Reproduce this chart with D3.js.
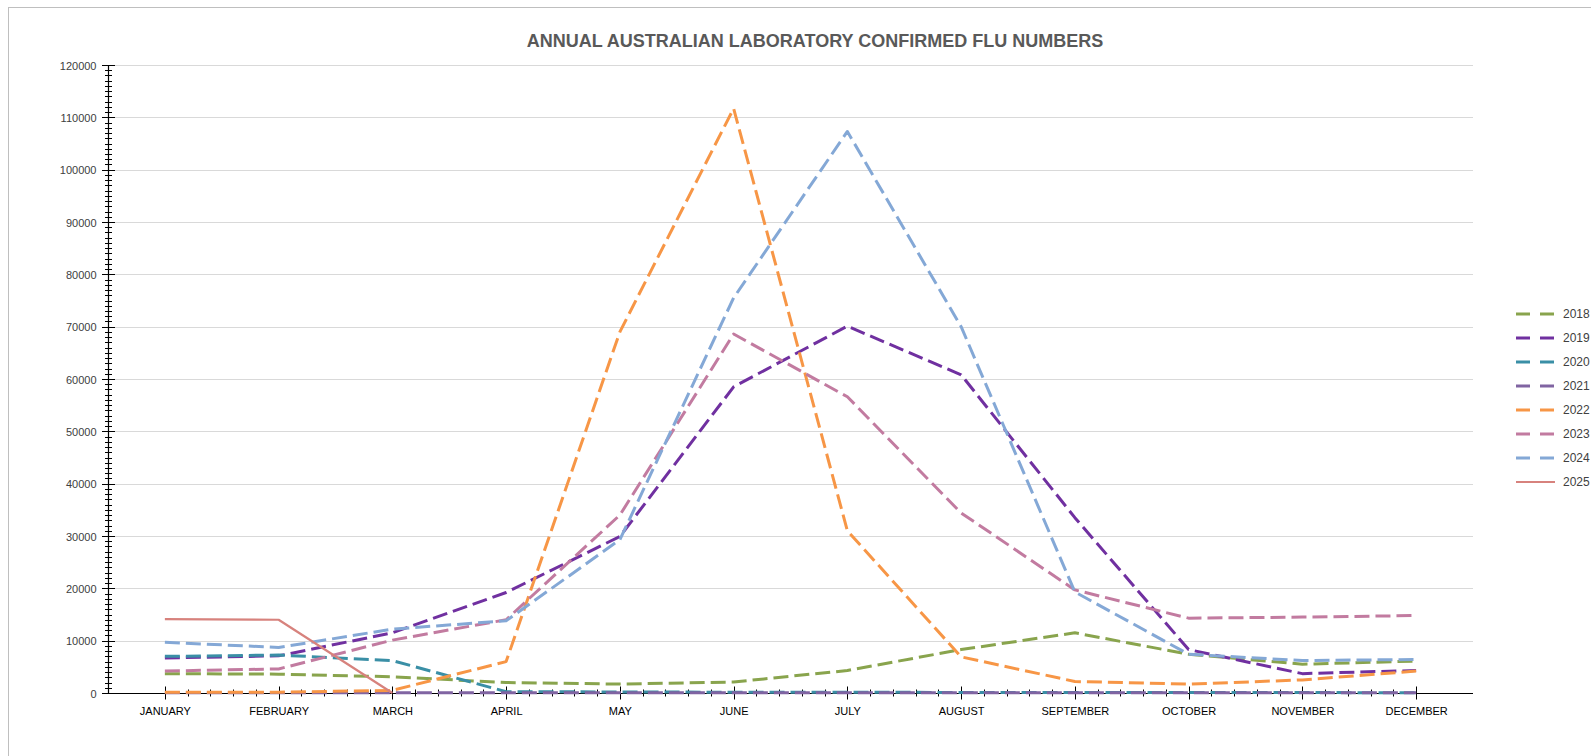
<!DOCTYPE html>
<html>
<head>
<meta charset="utf-8">
<script src="https://cdn.jsdelivr.net/npm/d3@7"></script>
<style>
  html, body { margin: 0; padding: 0; background: #fff; }
  svg { display: block; }
</style>
</head>
<body>
<svg id="chart" width="1591" height="756"></svg>
<script>
// ---- data ----
const chartTitle = "ANNUAL AUSTRALIAN LABORATORY CONFIRMED FLU NUMBERS";
const months = ["JANUARY","FEBRUARY","MARCH","APRIL","MAY","JUNE","JULY","AUGUST","SEPTEMBER","OCTOBER","NOVEMBER","DECEMBER"];
const years = ["2018","2019","2020","2021","2022","2023","2024","2025"];
const yTicks = [0,10000,20000,30000,40000,50000,60000,70000,80000,90000,100000,110000,120000];

const s2018 = [3700, 3600, 3100, 2000, 1700, 2100, 4300, 8300, 11500, 7400, 5500, 6100];
const s2019 = [6700, 7100, 11500, 19200, 29900, 58500, 70100, 60800, 33500, 8300, 3700, 4300];
const s2020 = [7000, 7250, 6200, 250, 200, 150, 150, 100, 100, 80, 80, 60];
const s2021 = [50, 40, 40, 50, 60, 50, 60, 50, 40, 30, 30, 30];
const s2022 = [150, 150, 500, 6000, 69000, 111700, 31000, 6900, 2200, 1700, 2500, 4200];
const s2023 = [4200, 4600, 10100, 14000, 34000, 68600, 56600, 34400, 19700, 14300, 14500, 14800];
const s2024 = [9700, 8700, 12200, 13800, 29300, 75500, 107300, 70000, 19300, 7400, 6200, 6400];
const s2025 = [14100, 14000, 0];

const seriesValues = [s2018, s2019, s2020, s2021, s2022, s2023, s2024, s2025];
const colors = ["#89A44D", "#7030A0", "#3A8FA6", "#8064A2", "#F79646", "#C27BA0", "#84A8D6", "#D7827D"];
const dashed = [true, true, true, true, true, true, true, false];

(function () {
// ---- layout ----
const svg = d3.select("#chart");
const pL = 108, pR = 1473, pT = 65, pB = 693;

const x = d3.scalePoint().domain(months).range([pL, pR]).padding(0.5);
const y = d3.scaleLinear().domain([0, 120000]).range([pB, pT]);

// outer frame
svg.append("rect")
  .attr("x", 8.5).attr("y", 7.5).attr("width", 1700).attr("height", 900)
  .attr("fill", "none").attr("stroke", "#BFBFBF").attr("stroke-width", 1);

// title
svg.append("text")
  .attr("x", 815).attr("y", 41)
  .attr("text-anchor", "middle").attr("dominant-baseline", "central")
  .attr("font-family", "'Liberation Sans Narrow', 'Liberation Sans', Arial, sans-serif")
  .attr("font-weight", "bold").attr("font-size", 18)
  .attr("fill", "#595959")
  .text(chartTitle);

// gridlines
svg.append("g").selectAll("line").data(yTicks.filter(d => d > 0)).join("line")
  .attr("x1", pL).attr("x2", pR)
  .attr("y1", d => Math.round(y(d)) + 0.5).attr("y2", d => Math.round(y(d)) + 0.5)
  .attr("stroke", "#D9D9D9").attr("stroke-width", 1);

// y axis labels via d3 axis
const yAxis = d3.axisLeft(y).tickValues(yTicks).tickSize(0).tickPadding(12).tickFormat(d3.format("d"));
const gy = svg.append("g").attr("transform", `translate(${pL + 0.5},0.5)`).call(yAxis);
gy.select(".domain").remove();
gy.selectAll("text")
  .attr("font-family", "'Liberation Sans', Arial, sans-serif")
  .attr("font-size", 11).attr("fill", "#404040");

// y minor ticks (every 1000)
const yMinor = d3.range(0, 120001, 1000).filter(d => d % 10000 !== 0);
svg.append("g").selectAll("line").data(yMinor).join("line")
  .attr("x1", pL - 3).attr("x2", pL + 4)
  .attr("y1", d => Math.round(y(d)) + 0.5).attr("y2", d => Math.round(y(d)) + 0.5)
  .attr("stroke", "#000").attr("stroke-width", 1);
svg.append("g").selectAll("line").data(yTicks).join("line")
  .attr("x1", pL - 6).attr("x2", pL + 7)
  .attr("y1", d => Math.round(y(d)) + 0.5).attr("y2", d => Math.round(y(d)) + 0.5)
  .attr("stroke", "#000").attr("stroke-width", 1);

// y axis line
svg.append("line")
  .attr("x1", pL + 0.5).attr("x2", pL + 0.5).attr("y1", pT).attr("y2", pB + 0.5)
  .attr("stroke", "#000").attr("stroke-width", 1.2);

// x axis line
const y0 = Math.round(y(0)) + 0.5;
svg.append("line")
  .attr("x1", pL).attr("x2", pR).attr("y1", y0).attr("y2", y0)
  .attr("stroke", "#000").attr("stroke-width", 1.2);

// x ticks: major at months, minor at fifths between months
const step = x.step();
const xMinor = [];
for (let i = 0; i < months.length - 1; i++) {
  for (let k = 1; k < 5; k++) xMinor.push(x(months[i]) + step * k / 5);
}
svg.append("g").selectAll("line").data(xMinor).join("line")
  .attr("x1", d => Math.round(d) + 0.5).attr("x2", d => Math.round(d) + 0.5)
  .attr("y1", y0 - 4).attr("y2", y0 + 3)
  .attr("stroke", "#000").attr("stroke-width", 1);
svg.append("g").selectAll("line").data(months).join("line")
  .attr("x1", d => Math.round(x(d)) + 0.5).attr("x2", d => Math.round(x(d)) + 0.5)
  .attr("y1", y0 - 7).attr("y2", y0 + 6)
  .attr("stroke", "#000").attr("stroke-width", 1);

// x labels via d3 axis
const xAxis = d3.axisBottom(x).tickSize(0).tickPadding(14);
const gx = svg.append("g").attr("transform", `translate(0,${y0})`).call(xAxis);
gx.select(".domain").remove();
gx.selectAll("text")
  .attr("font-family", "'Liberation Sans', Arial, sans-serif")
  .attr("font-size", 11).attr("fill", "#000");

// series lines
const line = d3.line().x((d, i) => x(months[i])).y(d => y(d));
const gl = svg.append("g");
years.forEach((yr, si) => {
  gl.append("path")
    .datum(seriesValues[si])
    .attr("d", line)
    .attr("fill", "none")
    .attr("stroke", colors[si])
    .attr("stroke-width", dashed[si] ? 3 : 2.2)
    .attr("stroke-dasharray", dashed[si] ? "15,6" : null)
    .attr("stroke-linejoin", "round");
});

// legend
const lg = svg.append("g");
years.forEach((yr, si) => {
  const ly = 314 + si * 24;
  lg.append("line")
    .attr("x1", 1516).attr("x2", 1555).attr("y1", ly).attr("y2", ly)
    .attr("stroke", colors[si])
    .attr("stroke-width", dashed[si] ? 3 : 2.2)
    .attr("stroke-dasharray", dashed[si] ? "14,10" : null);
  lg.append("text")
    .attr("x", 1563).attr("y", ly).attr("dominant-baseline", "central")
    .attr("font-family", "'Liberation Sans', Arial, sans-serif")
    .attr("font-size", 12).attr("fill", "#404040")
    .text(yr);
});
})();
</script>
</body>
</html>
